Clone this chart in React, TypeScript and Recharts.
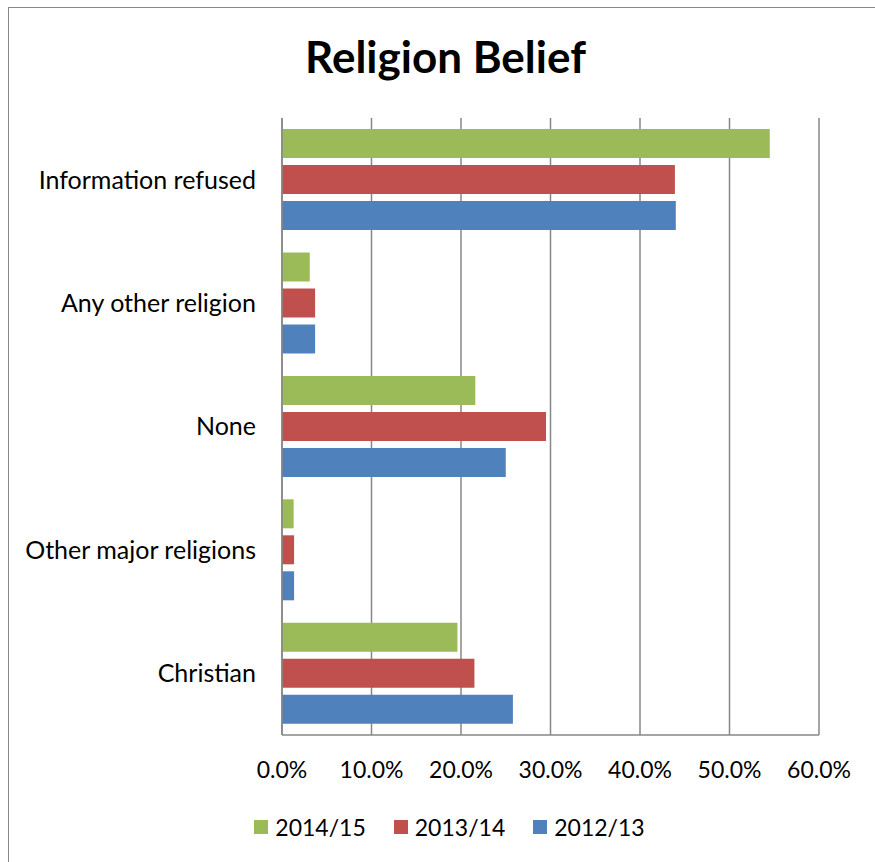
import React from "react";
import { BarChart, Bar, XAxis, YAxis, CartesianGrid, Legend } from "recharts";

const categories = [
  "Information refused",
  "Any other religion",
  "None",
  "Other major religions",
  "Christian",
];
const series1415 = [54.5, 3.1, 21.6, 1.3, 19.6];
const series1314 = [43.9, 3.7, 29.5, 1.35, 21.5];
const series1213 = [44.0, 3.7, 25.0, 1.35, 25.8];
const xTicks = [0, 10, 20, 30, 40, 50, 60];

const seriesNames = ["2014/15", "2013/14", "2012/13"];
const seriesColors = ["#9BBB59", "#C0504D", "#4F81BD"];

const data = categories.map((c, i) => ({
  name: c,
  s1415: series1415[i],
  s1314: series1314[i],
  s1213: series1213[i],
}));

const FONT = "Lato, 'Liberation Sans', sans-serif";
const GRID = "#878787";

const LegendContent = (props: any) => {
  const payload = [...(props.payload || [])].sort(
    (a: any, b: any) => seriesNames.indexOf(a.value) - seriesNames.indexOf(b.value)
  );
  return (
    <div
      style={{
        display: "flex",
        justifyContent: "center",
        alignItems: "center",
        fontFamily: FONT,
        fontSize: 23,
        lineHeight: "28px",
        color: "#000",
      }}
    >
      {payload.map((p: any, i: number) => (
        <div
          key={i}
          style={{ display: "flex", alignItems: "center", marginLeft: i === 0 ? 0 : 28 }}
        >
          <span
            style={{ display: "inline-block", width: 14, height: 14, background: p.color, marginRight: 7 }}
          />
          <span>{p.value}</span>
        </div>
      ))}
    </div>
  );
};

export default function App() {
  return (
    <div
      style={{
        position: "fixed",
        left: 0,
        top: 0,
        width: 875,
        height: 862,
        overflow: "hidden",
        background: "#fff",
      }}
    >
      <div
        style={{
          position: "absolute",
          left: 8,
          top: 6.5,
          width: 950,
          height: 950,
          border: `1.5px solid ${GRID}`,
          boxSizing: "border-box",
          pointerEvents: "none",
        }}
      />
      <div style={{ position: "absolute", left: 8, top: 8 }}>
        <BarChart
          width={859}
          height={846}
          data={data}
          layout="vertical"
          margin={{ top: 110, right: 48, bottom: 79, left: 0 }}
          barCategoryGap="9%"
          barGap={7}
        >
          <text
            x={437.5}
            y={64.7}
            textAnchor="middle"
            style={{ fontFamily: FONT, fontSize: 44, fontWeight: 700, fill: "#000" }}
          >
            Religion Belief
          </text>
          <CartesianGrid horizontal={false} stroke={GRID} strokeWidth={1.5} />
          <XAxis
            type="number"
            domain={[0, 60]}
            ticks={xTicks}
            tickFormatter={(v: number) => v.toFixed(1) + "%"}
            axisLine={{ stroke: GRID, strokeWidth: 1.5 }}
            tickLine={false}
            tickSize={0}
            tickMargin={27}
            height={40}
            interval={0}
            tick={{ fill: "#000", fontSize: 23, fontFamily: FONT }}
          />
          <YAxis
            type="category"
            dataKey="name"
            width={274}
            axisLine={{ stroke: GRID, strokeWidth: 1.5 }}
            tickLine={false}
            tickSize={0}
            tickMargin={26}
            interval={0}
            tick={{ fill: "#000", fontSize: 25, fontFamily: FONT }}
          />
          <Legend
            layout="horizontal"
            verticalAlign="middle"
            align="center"
            wrapperStyle={{ position: "absolute", top: 804.5, left: 24, width: 835 }}
            content={LegendContent}
          />
          <Bar dataKey="s1415" name={seriesNames[0]} fill={seriesColors[0]} isAnimationActive={false} />
          <Bar dataKey="s1314" name={seriesNames[1]} fill={seriesColors[1]} isAnimationActive={false} />
          <Bar dataKey="s1213" name={seriesNames[2]} fill={seriesColors[2]} isAnimationActive={false} />
        </BarChart>
      </div>
    </div>
  );
}
